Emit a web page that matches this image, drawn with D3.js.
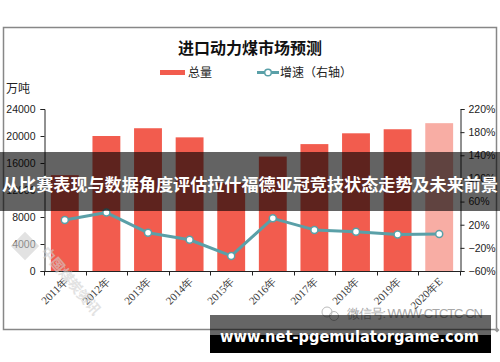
<!DOCTYPE html>
<html><head><meta charset="utf-8">
<script src="https://cdn.jsdelivr.net/npm/d3@7"></script>
<style>html,body{margin:0;padding:0;background:#fff}svg{display:block}</style>
</head><body>
<script>
const categories = ["2011年","2012年","2013年","2014年","2015年","2016年","2017年","2018年","2019年","2020年E"];
const totalValues = [14200, 20000, 21150, 19800, 13050, 16950, 18800, 20400, 21000, 21900];
const growthValues = [28, 41, 6, -6, -34, 31, 11, 8, 3, 4];
const leftTicks = [0, 4000, 8000, 12000, 16000, 20000, 24000];
const rightTicks = [-60, -20, 20, 60, 100, 140, 180, 220];
const titleText = "进口动力煤市场预测";
const legendLabels = ["总量", "增速（右轴）"];
const unitLabel = "万吨";
const bannerText = "从比赛表现与数据角度评估拉什福德亚冠竞技状态走势及未来前景";
const footerText = "www.net-pgemulatorgame.com";
const wechatText = "微信号: WWW-CTCTC-CN";

const W = 500, H = 362;
const svg = d3.select("body").append("svg").attr("width", W).attr("height", H);
const cjk = "'Noto Sans CJK SC', 'Noto Sans', sans-serif";
const sans = "'Liberation Sans', Arial, sans-serif";
const serif = "'Liberation Serif', 'DejaVu Serif', serif";
const barColor = "#f25c4e", barLight = "#f8ada4", lineColor = "#5aa0a8";

// frame
svg.append("rect").attr("x", 3.5).attr("y", 27.5).attr("width", 493).attr("height", 302)
  .attr("fill", "#fff").attr("stroke", "#878787").attr("stroke-width", 1.5);
svg.append("path").attr("d", "M497,327.5 L499.5,330 L497,332.5 L494.5,330Z").attr("fill", "#999");

// title
svg.append("text").attr("x", 250).attr("y", 54).attr("text-anchor", "middle")
  .attr("font-family", cjk).attr("font-weight", "bold").attr("font-size", 16).attr("fill", "#111")
  .text(titleText);

// legend
const lg = svg.append("g").attr("font-family", cjk).attr("font-size", 12).attr("fill", "#222");
lg.append("line").attr("x1", 160).attr("x2", 185).attr("y1", 72.5).attr("y2", 72.5)
  .attr("stroke", barColor).attr("stroke-width", 5);
lg.append("text").attr("x", 188).attr("y", 77).text(legendLabels[0]);
lg.append("line").attr("x1", 257).attr("x2", 279).attr("y1", 72.5).attr("y2", 72.5)
  .attr("stroke", lineColor).attr("stroke-width", 3);
lg.append("circle").attr("cx", 268).attr("cy", 72.5).attr("r", 3.3)
  .attr("fill", "#fff").attr("stroke", lineColor).attr("stroke-width", 1.5);
lg.append("text").attr("x", 280).attr("y", 77).text(legendLabels[1]);

svg.append("text").attr("x", 6).attr("y", 93).attr("font-family", cjk).attr("font-size", 12)
  .attr("fill", "#222").text(unitLabel);

// scales
const x = d3.scaleBand().domain(categories).range([44, 460]).paddingInner(0.33).paddingOuter(0.165);
const yL = d3.scaleLinear().domain([0, 24000]).range([271, 109]);
const yR = d3.scaleLinear().domain([-60, 220]).range([271, 109]);

// bars
svg.append("g").selectAll("rect").data(categories).join("rect")
  .attr("x", d => x(d)).attr("width", x.bandwidth())
  .attr("y", (d, i) => yL(totalValues[i])).attr("height", (d, i) => yL(0) - yL(totalValues[i]))
  .attr("fill", (d, i) => i === categories.length - 1 ? barLight : barColor);

// left axis
const ax = svg.append("g").attr("transform", "translate(44.5,0)")
  .call(d3.axisLeft(yL).tickValues(leftTicks).tickSize(4).tickPadding(5).tickFormat(d3.format("d")));
ax.selectAll("text").attr("font-family", sans).attr("font-size", 10.5).attr("fill", "#222");
ax.selectAll("path,line").attr("stroke", "#222");

// right axis
const ar = svg.append("g").attr("transform", "translate(460.5,0)")
  .call(d3.axisRight(yR).tickValues(rightTicks).tickSize(4).tickPadding(4)
    .tickFormat(d => (d < 0 ? "\u2212" + Math.abs(d) : d) + "%"));
ar.selectAll("text").attr("font-family", sans).attr("font-size", 10.5).attr("fill", "#222");
ar.selectAll("path,line").attr("stroke", "#222");

// bottom axis
const step = x.step();
const bounds = categories.map(c => x(c) - step * 0.165).concat([460]);
svg.append("line").attr("x1", 44).attr("x2", 461).attr("y1", 271.5).attr("y2", 271.5).attr("stroke", "#222");
svg.append("g").selectAll("line").data(bounds).join("line")
  .attr("x1", d => Math.round(d) + 0.5).attr("x2", d => Math.round(d) + 0.5)
  .attr("y1", 271).attr("y2", 275.5).attr("stroke", "#222");
svg.append("g").selectAll("text").data(categories).join("text")
  .attr("transform", d => `translate(${x(d) + x.bandwidth() / 2 + 4},${282}) rotate(-45)`)
  .attr("text-anchor", "end").attr("font-family", serif).attr("font-size", 11).attr("fill", "#3a3a3a")
  .text(d => d);

// line
const pts = categories.map((c, i) => [x(c) + x.bandwidth() / 2, yR(growthValues[i])]);
svg.append("path").attr("d", d3.line()(pts)).attr("fill", "none")
  .attr("stroke", lineColor).attr("stroke-width", 3).attr("stroke-linejoin", "round");
svg.append("g").selectAll("circle").data(pts).join("circle")
  .attr("cx", d => d[0]).attr("cy", d => d[1]).attr("r", 3.5)
  .attr("fill", "#fff").attr("stroke", lineColor).attr("stroke-width", 1.5);

// watermark bottom-left
const wm = svg.append("g").attr("fill", "#d0d0d0").attr("opacity", 0.6);
wm.append("rect").attr("x", -10).attr("y", -10).attr("width", 20).attr("height", 20)
  .attr("transform", "translate(25,246) rotate(45)");
wm.append("text").attr("transform", "translate(40,252) rotate(50)").attr("font-family", cjk)
  .attr("font-size", 14).attr("font-weight", "bold").text("中国煤炭资讯");
wm.append("text").attr("transform", "translate(52,262) rotate(50)").attr("font-family", sans)
  .attr("font-size", 10).text("SCISS.COM");

// wechat watermark
const wc = svg.append("g").attr("fill", "none").attr("stroke", "#bbb");
wc.append("circle").attr("cx", 327).attr("cy", 312).attr("r", 5);
wc.append("circle").attr("cx", 334).attr("cy", 316).attr("r", 4.5);
svg.append("text").attr("x", 347).attr("y", 318).attr("font-family", sans).attr("font-size", 13)
  .attr("fill", "#a8a8a8").attr("textLength", 136).text(wechatText);

// middle banner
svg.append("rect").attr("x", 0).attr("y", 152).attr("width", W).attr("height", 59)
  .attr("fill", "#000").attr("opacity", 0.61);
svg.append("text").attr("x", 250).attr("y", 191).attr("text-anchor", "middle")
  .attr("font-family", cjk).attr("font-weight", "bold").attr("font-size", 16.5).attr("fill", "#fff")
  .attr("textLength", 496).attr("lengthAdjust", "spacingAndGlyphs").text(bannerText);

// footer banner
svg.append("rect").attr("x", 210).attr("y", 315).attr("width", 281).attr("height", 38)
  .attr("fill", "#000").attr("opacity", 0.6);
svg.append("rect").attr("x", 210).attr("y", 335).attr("width", 281).attr("height", 18).attr("fill", "#000");
svg.append("text").attr("x", 220).attr("y", 342).attr("font-family", "'DejaVu Sans', sans-serif")
  .attr("font-weight", "bold").attr("font-size", 15).attr("fill", "#fff")
  .attr("textLength", 259).attr("lengthAdjust", "spacingAndGlyphs").text(footerText);
</script>
</body></html>
